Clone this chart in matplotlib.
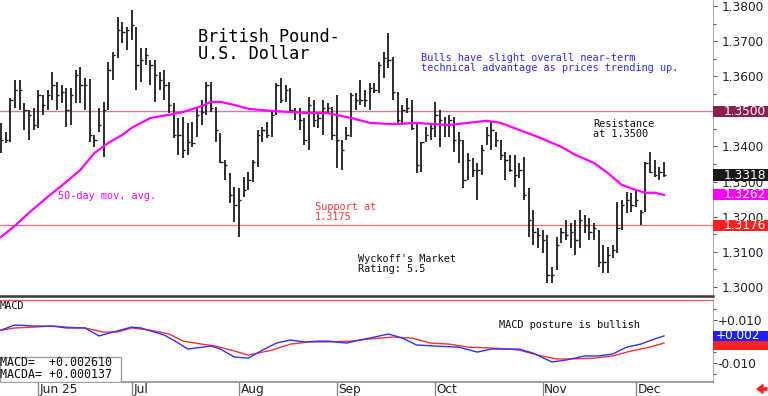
import matplotlib
matplotlib.use("Agg")
import matplotlib.pyplot as plt
import matplotlib.transforms as mtransforms
from matplotlib.patches import Rectangle, FancyArrow
from matplotlib.ticker import MultipleLocator, FuncFormatter, FixedLocator

# 价格数据 (逐根K线, 从图上读取)
highs = [1.3467, 1.3441, 1.3538, 1.3589, 1.3589, 1.3524, 1.3504, 1.3510, 1.3561, 1.3547,
         1.3561, 1.3612, 1.3584, 1.3575, 1.3566, 1.3566, 1.3618, 1.3626, 1.3595, 1.3592,
         1.3433, 1.3510, 1.3527, 1.3640, 1.3669, 1.3769, 1.3754, 1.3740, 1.3789, 1.3740,
         1.3680, 1.3680, 1.3646, 1.3646, 1.3612, 1.3618, 1.3584, 1.3524, 1.3481, 1.3484,
         1.3467, 1.3470, 1.3512, 1.3532, 1.3584, 1.3584, 1.3512, 1.3438, 1.3361, 1.3324,
         1.3285, 1.3282, 1.3313, 1.3327, 1.3361, 1.3447, 1.3455, 1.3470, 1.3498, 1.3581,
         1.3595, 1.3575, 1.3566, 1.3510, 1.3510, 1.3481, 1.3541, 1.3532, 1.3495, 1.3532,
         1.3524, 1.3512, 1.3547, 1.3418, 1.3455, 1.3552, 1.3552, 1.3589, 1.3561, 1.3581,
         1.3581, 1.3640, 1.3669, 1.3723, 1.3655, 1.3555, 1.3518, 1.3538, 1.3532, 1.3467,
         1.3413, 1.3455, 1.3461, 1.3527, 1.3504, 1.3484, 1.3490, 1.3484, 1.3441, 1.3418,
         1.3381, 1.3367, 1.3353, 1.3404, 1.3455, 1.3470, 1.3441, 1.3418, 1.3384, 1.3376,
         1.3376, 1.3353, 1.3370, 1.3282, 1.3219, 1.3168, 1.3162, 1.3148, 1.3057, 1.3142,
         1.3168, 1.3191, 1.3182, 1.3191, 1.3219, 1.3205, 1.3196, 1.3182, 1.3162, 1.3119,
         1.3114, 1.3119, 1.3242, 1.3248, 1.3270, 1.3267, 1.3276, 1.3219, 1.3356, 1.3384,
         1.3361, 1.3341, 1.3356]
lows = [1.3381, 1.3410, 1.3413, 1.3509, 1.3504, 1.3447, 1.3418, 1.3447, 1.3453, 1.3490,
        1.3504, 1.3532, 1.3504, 1.3524, 1.3455, 1.3461, 1.3524, 1.3524, 1.3504, 1.3413,
        1.3398, 1.3441, 1.3370, 1.3504, 1.3589, 1.3652, 1.3695, 1.3675, 1.3703, 1.3561,
        1.3584, 1.3632, 1.3575, 1.3527, 1.3561, 1.3532, 1.3495, 1.3424, 1.3376, 1.3367,
        1.3376, 1.3398, 1.3427, 1.3461, 1.3490, 1.3498, 1.3413, 1.3353, 1.3304, 1.3239,
        1.3185, 1.3142, 1.3256, 1.3276, 1.3299, 1.3341, 1.3413, 1.3424, 1.3427, 1.3490,
        1.3524, 1.3527, 1.3498, 1.3475, 1.3447, 1.3404, 1.3390, 1.3455, 1.3453, 1.3433,
        1.3495, 1.3418, 1.3339, 1.3333, 1.3418, 1.3427, 1.3504, 1.3518, 1.3512, 1.3504,
        1.3552, 1.3552, 1.3595, 1.3623, 1.3532, 1.3467, 1.3461, 1.3495, 1.3447, 1.3324,
        1.3327, 1.3413, 1.3418, 1.3427, 1.3398, 1.3427, 1.3427, 1.3384, 1.3353, 1.3282,
        1.3304, 1.3313, 1.3248, 1.3319, 1.3404, 1.3390, 1.3398, 1.3361, 1.3304, 1.3327,
        1.3285, 1.3310, 1.3248, 1.3142, 1.3119, 1.3111, 1.3097, 1.3011, 1.3011, 1.3048,
        1.3125, 1.3134, 1.3111, 1.3091, 1.3111, 1.3154, 1.3134, 1.3134, 1.3057, 1.3040,
        1.3040, 1.3082, 1.3097, 1.3162, 1.3211, 1.3213, 1.3228, 1.3176, 1.3213, 1.3324,
        1.3313, 1.3304, 1.3313]
closes = [1.3418, 1.3418, 1.3532, 1.3561, 1.3561, 1.3504, 1.3490, 1.3461, 1.3547, 1.3518,
          1.3547, 1.3575, 1.3547, 1.3555, 1.3504, 1.3547, 1.3603, 1.3575, 1.3575, 1.3433,
          1.3418, 1.3461, 1.3504, 1.3618, 1.3660, 1.3732, 1.3726, 1.3732, 1.3746, 1.3632,
          1.3646, 1.3660, 1.3632, 1.3603, 1.3589, 1.3575, 1.3518, 1.3433, 1.3433, 1.3390,
          1.3413, 1.3410, 1.3490, 1.3498, 1.3575, 1.3510, 1.3447, 1.3356, 1.3347, 1.3262,
          1.3233, 1.3248, 1.3276, 1.3304, 1.3356, 1.3433, 1.3447, 1.3433, 1.3490, 1.3575,
          1.3532, 1.3561, 1.3504, 1.3498, 1.3475, 1.3418, 1.3518, 1.3475, 1.3481, 1.3510,
          1.3510, 1.3433, 1.3418, 1.3390, 1.3433, 1.3547, 1.3532, 1.3532, 1.3532, 1.3566,
          1.3561, 1.3632, 1.3652, 1.3646, 1.3555, 1.3475, 1.3504, 1.3510, 1.3453, 1.3347,
          1.3413, 1.3433, 1.3453, 1.3490, 1.3475, 1.3461, 1.3475, 1.3418, 1.3418, 1.3304,
          1.3361, 1.3333, 1.3333, 1.3390, 1.3433, 1.3447, 1.3418, 1.3376, 1.3361, 1.3333,
          1.3319, 1.3333, 1.3262, 1.3191, 1.3156, 1.3148, 1.3134, 1.3034, 1.3034, 1.3119,
          1.3156, 1.3148, 1.3156, 1.3134, 1.3191, 1.3176, 1.3156, 1.3168, 1.3071, 1.3071,
          1.3091, 1.3105, 1.3168, 1.3233, 1.3248, 1.3233, 1.3248, 1.3213, 1.3353, 1.3327,
          1.3319, 1.3327, 1.3318]

# 50日均线 (取样点)
ma_idx = [0, 3, 6, 10, 14, 17, 20, 23, 26, 28, 32, 36, 39, 43, 45, 47, 50, 53, 58, 62, 66, 70,
          75, 79, 83, 85, 89, 92, 96, 100, 104, 107, 111, 115, 120, 123, 127, 130, 133, 136, 138,
          140, 142]
ma_val = [1.3142, 1.3174, 1.3211, 1.3256, 1.3299, 1.3333, 1.3381, 1.3410, 1.3433, 1.3453, 1.3481,
          1.3490, 1.3498, 1.3515, 1.3527, 1.3527, 1.3518, 1.3507, 1.3501, 1.3498, 1.3495, 1.3495,
          1.3481, 1.3467, 1.3464, 1.3464, 1.3467, 1.3464, 1.3461, 1.3467, 1.3473, 1.3467, 1.3447,
          1.3427, 1.3399, 1.3376, 1.3353, 1.3324, 1.3290, 1.3276, 1.3268, 1.3268, 1.3262]

# MACD (蓝) 与 信号线 (红)
macd_idx = [0, 3, 7, 11, 14, 18, 21, 24, 28, 30, 35, 38, 40, 45, 47, 50, 53, 56, 59, 62, 65, 68,
            70, 74, 78, 80, 83, 86, 89, 93, 98, 102, 105, 109, 111, 114, 118, 121, 125, 128, 131,
            134, 137, 140, 142]
macd_val = [0.0053, 0.0077, 0.0072, 0.0072, 0.0063, 0.0063, 0.0026, 0.0044, 0.0067, 0.0063,
            0.0030, -0.0007, -0.0035, -0.0021, -0.0035, -0.0072, -0.0077, -0.0040, -0.0007,
            0.0007, -0.0002, 0.0002, 0.0002, -0.0007, 0.0012, 0.0021, 0.0035, 0.0016, -0.0016,
            -0.0021, -0.0026, -0.0049, -0.0035, -0.0035, -0.0035, -0.0054, -0.0095, -0.0086,
            -0.0067, -0.0067, -0.0058, -0.0026, -0.0012, 0.0012, 0.0026]
sig_idx = [0, 3, 7, 11, 14, 18, 22, 25, 28, 32, 36, 39, 43, 46, 50, 53, 58, 62, 66, 70, 75, 79,
           84, 88, 92, 96, 100, 105, 109, 111, 115, 119, 122, 127, 131, 135, 139, 142]
sig_val = [0.0053, 0.0063, 0.0067, 0.0072, 0.0067, 0.0063, 0.0044, 0.0044, 0.0063, 0.0053,
           0.0035, 0.0002, -0.0012, -0.0021, -0.0044, -0.0063, -0.0040, -0.0012, -0.0002,
           -0.0002, 0.0002, 0.0012, 0.0021, 0.0016, -0.0007, -0.0012, -0.0026, -0.0030,
           -0.0035, -0.0040, -0.0063, -0.0081, -0.0081, -0.0077, -0.0067, -0.0044, -0.0026,
           -0.0007]

month_idx = [8, 28, 51, 72, 93, 116, 136]
month_lbl = ["Jun 25", "Jul", "Aug", "Sep", "Oct", "Nov", "Dec"]

price_ticks = [1.30, 1.31, 1.32, 1.33, 1.34, 1.36, 1.37, 1.38]   # 1.35 被标签框盖住
resistance = 1.3500
support = 1.3176
last_close = 1.3318
last_ma = 1.3262
macd_last = 0.002610
macda_last = 0.000137
macd_box_txt = "+0.002"

MONO = "DejaVu Sans Mono"
SANS = "DejaVu Sans"

fig = plt.figure(figsize=(7.68, 3.96), dpi=100)
W, H = 768.0, 396.0


def fx(p):
    return p / W


def fy(p):
    return 1 - p / H


def ftext(x, y, s, **kw):
    # 按像素位置写字 (基线对齐)
    kw.setdefault("family", MONO)
    kw.setdefault("fontsize", 7.4)
    fig.text(fx(x), fy(y), s, va="baseline", ha="left", **kw)


right = 713
ax1 = fig.add_axes([0, fy(296), fx(right), 296 / H])
ax2 = fig.add_axes([0, fy(382), fx(right), (382 - 300) / H])

idx = list(range(len(highs)))

# 价格面板
ax1.vlines(idx, lows, highs, color="#1c1c1c", lw=1.3, zorder=3)
ax1.hlines(closes, idx, [i + 0.5 for i in idx], color="#1c1c1c", lw=1.0, zorder=3)
ax1.plot(ma_idx, ma_val, color="#ff00ff", lw=1.6, zorder=4)
ax1.axhline(resistance, color="#c97fa5", lw=1.0, zorder=2)
ax1.axhline(support, color="#ff6a6a", lw=0.9, zorder=2)

ax1.set_xlim(-0.2, 152.5)
ax1.set_ylim(1.2974, 1.3817)
ax1.set_xticks([])
ax1.yaxis.tick_right()
ax1.yaxis.set_major_locator(FixedLocator(price_ticks))
ax1.yaxis.set_minor_locator(MultipleLocator(0.005))
ax1.yaxis.set_major_formatter(FuncFormatter(lambda v, _: f"{v:.4f}"))
ax1.tick_params(axis="y", which="major", length=3, width=0.8, color="#555555", pad=3,
                labelsize=8.7, labelcolor="#222222")
ax1.tick_params(axis="y", which="minor", length=2, width=0.8, color="#555555")
for s in ["top", "left"]:
    ax1.spines[s].set_visible(False)
ax1.spines["right"].set_color("#b0b0b0")
ax1.spines["bottom"].set_color("#3a3a3a")
ax1.spines["bottom"].set_linewidth(1.8)

# MACD 面板
ax2.plot(sig_idx, sig_val, color="#ff3030", lw=1.0, zorder=3)
ax2.plot(macd_idx, macd_val, color="#3030ff", lw=1.0, zorder=4)
ax2.set_xlim(-0.2, 152.5)
ax2.set_ylim(-0.0188, 0.0193)
ax2.yaxis.tick_right()
ax2.set_yticks([-0.01, 0.01])
ax2.yaxis.set_minor_locator(MultipleLocator(0.005))
ax2.yaxis.set_major_formatter(FuncFormatter(lambda v, _: f"{v:+.3f}"))
ax2.tick_params(axis="y", which="major", length=3, width=0.8, color="#555555", pad=0.5,
                labelsize=8.7, labelcolor="#222222")
ax2.tick_params(axis="y", which="minor", length=2, width=0.8, color="#555555")
ax2.set_xticks(month_idx)
ax2.set_xticklabels([])
ax2.tick_params(axis="x", length=10, width=1.0, color="#888888", direction="out")
ax2.spines["left"].set_visible(False)
ax2.spines["top"].set_color("#ff5050")
ax2.spines["top"].set_linewidth(0.8)
ax2.spines["right"].set_color("#b0b0b0")
ax2.spines["bottom"].set_color("#909090")
ax2.spines["bottom"].set_linewidth(1.2)

# 月份标签 (紧贴刻度线右侧)
xtr = mtransforms.blended_transform_factory(ax2.transData, fig.transFigure)
for m, lbl in zip(month_idx, month_lbl):
    ax2.text(m + 0.3, fy(393.3), lbl, transform=xtr, ha="left", va="baseline",
             family=SANS, fontsize=8.7, color="#222222", clip_on=False)


# 右侧数值标签框
def value_box(ax, val, txt, color, h_px, text_off, show_text=True):
    tr = mtransforms.blended_transform_factory(ax.transAxes, ax.transData)
    y0, y1 = ax.get_ylim()
    ax_h = ax.get_position().height * H
    h = h_px * (y1 - y0) / ax_h
    ax.add_patch(Rectangle((1.0, val - h / 2), 60 / right, h, transform=tr, clip_on=False,
                           facecolor=color, edgecolor="none", zorder=10))
    if show_text:
        ax.text(1.0 + text_off / right, val, txt, transform=tr, ha="left", va="center",
                color="white", fontsize=8.7, family=SANS, zorder=11, clip_on=False)


value_box(ax1, resistance, f"{resistance:.4f}", "#8b1f50", 11, 11)
value_box(ax1, last_close, f"{last_close:.4f}", "#1a1a1a", 12, 11)
value_box(ax1, last_ma, f"{last_ma:.4f}", "#ff00ff", 11, 11)
value_box(ax1, support, f"{support:.4f}", "#ff2020", 11, 11)
value_box(ax2, sig_val[-1] - 0.001, "", "#ff2020", 10, 3, show_text=False)
value_box(ax2, macd_last, macd_box_txt, "#2020ff", 10, 3)

# 图内文字
ftext(198, 42, "British Pound-", fontsize=12.2, color="black")
ftext(198, 59, "U.S. Dollar", fontsize=12.2, color="black")
ftext(421, 61, "Bulls have slight overall near-term", color="#2d2dff")
ftext(421, 71, "technical advantage as prices trending up.", color="#2d2dff")
ftext(593, 127, "Resistance", color="#111111")
ftext(593, 137, "at 1.3500", color="#111111")
ftext(58, 199, "50-day mov. avg.", color="#ff00ff")
ftext(315, 210, "Support at", color="#ff3a3a")
ftext(315, 220, "1.3175", color="#ff3a3a")
ftext(358, 262, "Wyckoff's Market", color="#111111")
ftext(358, 272.5, "Rating: 5.5", color="#111111")
ftext(0, 309, "MACD", color="#111111")
ftext(499, 328, "MACD posture is bullish", color="#111111")

# MACD 数值框
ax2.add_patch(Rectangle((0, 0), 121 / right, 25 / 82, transform=ax2.transAxes, facecolor="white",
                        edgecolor="#a0a0a0", lw=1.0, zorder=6))
ftext(0, 366.5, f"MACD=  {macd_last:+.6f}", fontsize=8.4, color="#111111", zorder=7)
ftext(0, 378, f"MACDA= {macda_last:+.6f}", fontsize=8.4, color="#111111", zorder=7)

# 右下角红色箭头
fig.add_artist(FancyArrow(fx(767), fy(389), -fx(10), 0, width=0.006, head_width=0.022,
                          head_length=fx(6), length_includes_head=True, color="#ff2020",
                          transform=fig.transFigure))

fig.savefig("out.png", dpi=100)
